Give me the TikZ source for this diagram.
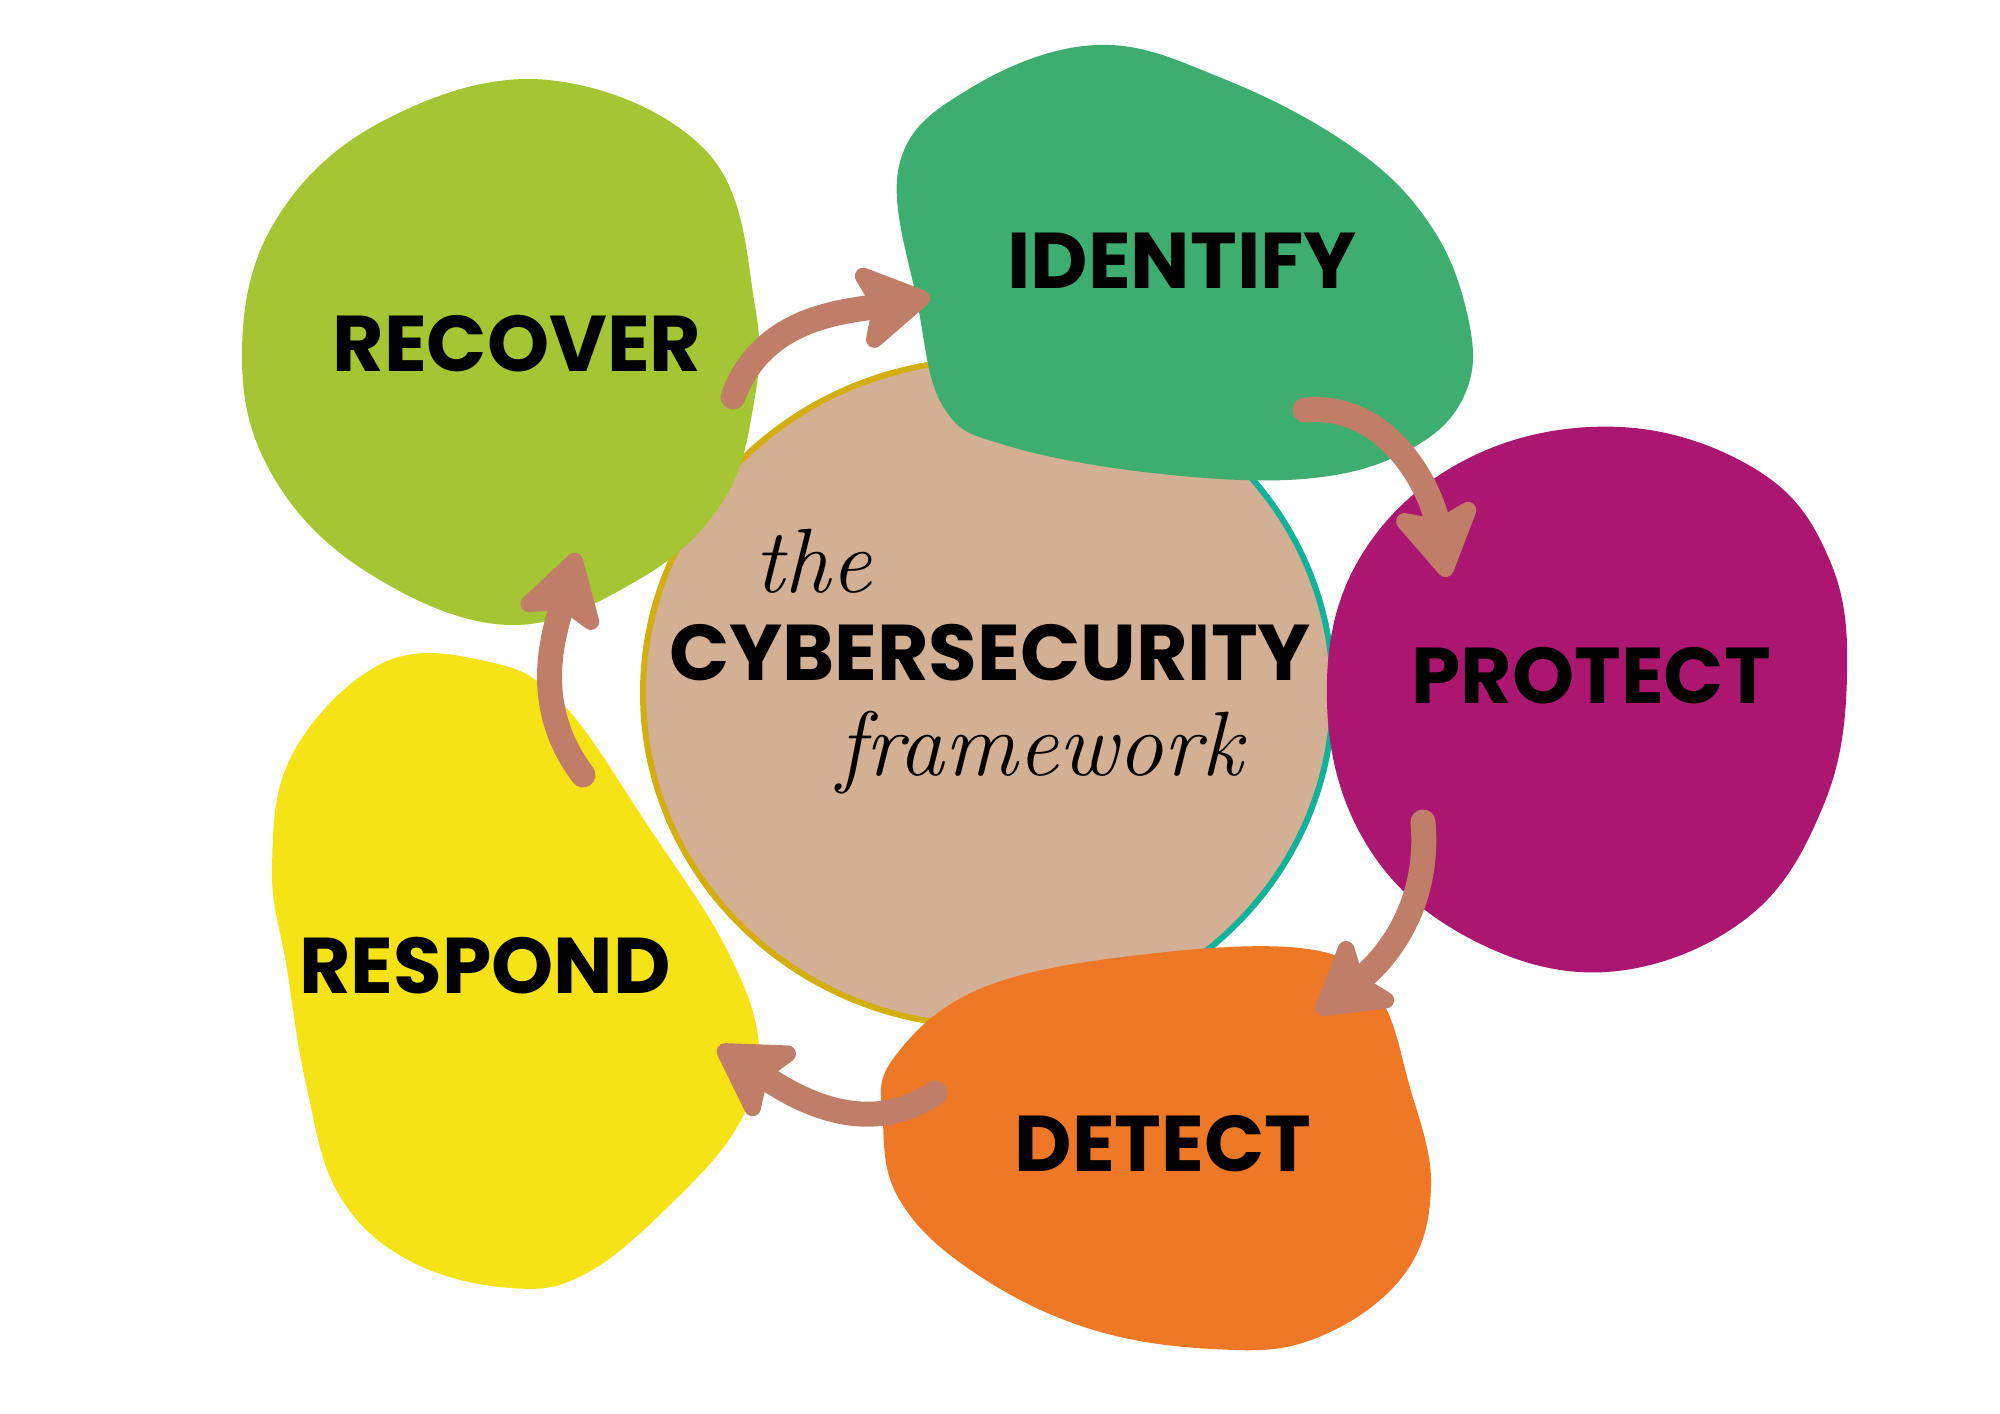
\documentclass[tikz,border=0pt]{standalone}
\usepackage{fontspec}
\usepackage{tikz}
\usetikzlibrary{arrows.meta}
\newfontfamily\blobfont{Poppins}
\definecolor{recoverc}{HTML}{A3C632}
\definecolor{identifyc}{HTML}{3DAE6F}
\definecolor{protectc}{HTML}{AB1671}
\definecolor{detectc}{HTML}{EE7826}
\definecolor{respondc}{HTML}{F6E316}
\definecolor{centrec}{HTML}{D3AF93}
\definecolor{goldc}{HTML}{D4AE0C}
\definecolor{tealc}{HTML}{12B29A}
\definecolor{arrowc}{HTML}{C07E68}

\begin{document}
\begin{tikzpicture}[x=0.1mm,y=0.1mm]
  \tikzstyle{blob}=[smooth cycle,tension=0.65]
  \tikzstyle{stage}=[font=\blobfont\bfseries\fontsize{22.5}{22.5}\selectfont,text=black]
  \tikzstyle{script}=[font=\itshape\fontsize{26}{26}\selectfont,text=black]
  \tikzstyle{flow}=[-{Stealth[length=8.5mm,width=10mm,inset=1.8mm,round]},line width=2.5mm,line cap=round,draw=arrowc]

  \useasboundingbox (0,0) rectangle (2000,1414);

  % centre
  \fill[centrec] (988,721) ellipse [x radius=345,y radius=333];
  \draw[line width=0.6mm,goldc] (988,1054) arc [start angle=90,end angle=270,x radius=345,y radius=333];
  \draw[line width=0.6mm,tealc] (988,388) arc [start angle=-90,end angle=90,x radius=345,y radius=333];

  % blobs
  \fill[recoverc] plot[blob] coordinates {(548,1334) (708,1261) (755,1108) (753,1006) (721,910) (638,834) (510,789) (370,840) (274,936) (242,1057) (274,1191) (383,1293)};
  \fill[identifyc] plot[blob] coordinates {(899,1248) (969,1325) (1097,1369) (1224,1335) (1352,1267) (1429,1191) (1467,1101) (1467,1025) (1416,968) (1314,936) (1161,940) (1008,968) (944,1006) (918,1108)};
  \fill[protectc] plot[blob] coordinates {(1620,987) (1760,942) (1830,853) (1847,738) (1824,610) (1747,496) (1607,442) (1467,477) (1365,572) (1327,712) (1358,853) (1467,955)};
  \fill[detectc] plot[blob] coordinates {(893,355) (982,426) (1148,460) (1314,464) (1378,419) (1409,330) (1431,228) (1403,138) (1314,75) (1212,65) (1084,87) (969,145) (899,215) (883,292)};
  \fill[respondc] plot[blob] coordinates {(383,751) (485,753) (561,712) (650,585) (727,464) (759,368) (740,292) (676,215) (587,141) (510,126) (408,154) (338,221) (306,330) (287,445) (272,547) (293,661)};

  % labels
  \node[stage] (recover)  at (517,1070) {RECOVER};
  \node[stage] (identify) at (1182,1153) {IDENTIFY};
  \node[stage] (protect)  at (1591,738) {PROTECT};
  \node[stage] (detect)   at (1163,270) {DETECT};
  \node[stage] (respond)  at (485,448) {RESPOND};
  \node[script] (the)     at (813,853) {the};
  \node[stage] (cyber)    at (990,761) {CYBERSECURITY};
  \node[script] (frame)   at (1040,661) {framework};

  % arrow ends
  \coordinate (rec out) at (733,1017);
  \coordinate (ide in)  at (930,1117);
  \coordinate (ide out) at (1305,1004);
  \coordinate (pro in)  at (1447,837);
  \coordinate (pro out) at (1423,592);
  \coordinate (det in)  at (1317,401);
  \coordinate (det out) at (935,321);
  \coordinate (res in)  at (718,367);
  \coordinate (res out) at (583,639);
  \coordinate (rec in)  at (577,861);

  \path (rec out) edge[flow,out=70,in=190]  (ide in)
        (ide out) edge[flow,out=5,in=100]   (pro in)
        (pro out) edge[flow,out=-85,in=38]  (det in)
        (det out) edge[flow,out=214,in=-33] (res in)
        (res out) edge[flow,out=127,in=254] (rec in);
\end{tikzpicture}
\end{document}
